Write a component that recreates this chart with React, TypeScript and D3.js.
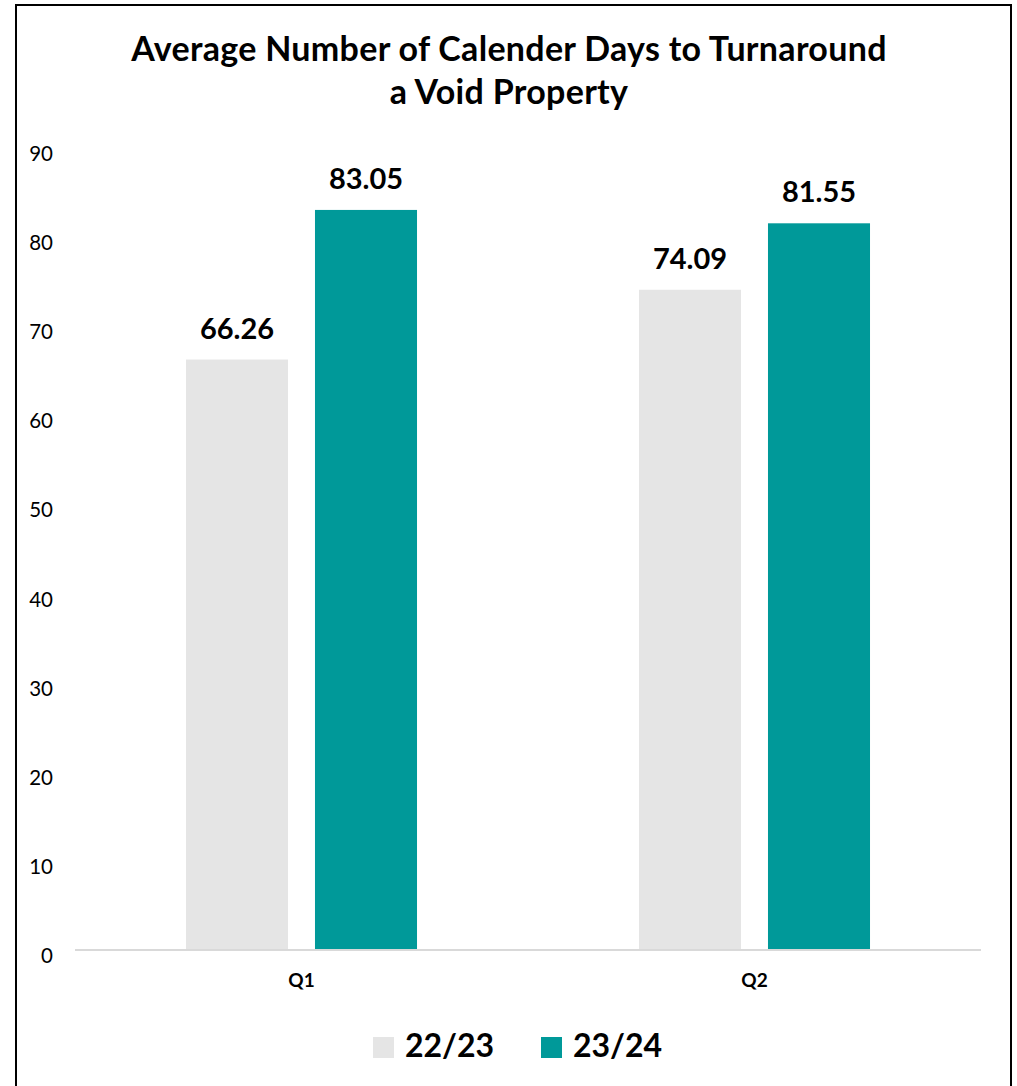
import React from "react";
import * as d3 from "d3";

const categories = ["Q1", "Q2"];
const seriesNames = ["22/23", "23/24"];
const values2223 = [66.26, 74.09];
const values2324 = [83.05, 81.55];
const seriesColors = ["#E5E5E5", "#009999"];
const yTicks = [0, 10, 20, 30, 40, 50, 60, 70, 80, 90];
const titleLines = ["Average Number of Calender Days to Turnaround", "a Void Property"];

const W = 1017;
const H = 1086;
const FONT = "Lato, 'Open Sans', sans-serif";

export default function App() {
  const plotLeft = 75;
  const plotRight = 981;
  const y = d3.scaleLinear().domain([0, 90]).range([950, 148]);
  const x0 = d3
    .scaleBand<string>()
    .domain(categories)
    .range([plotLeft, plotRight])
    .paddingInner(0.49)
    .paddingOuter(0.245);
  const x1 = d3
    .scaleBand<string>()
    .domain(seriesNames)
    .range([0, x0.bandwidth()])
    .paddingInner(0.209);
  const series = [values2223, values2324];

  return (
    <svg
      width={W}
      height={H}
      style={{ position: "absolute", left: 0, top: 0, background: "#fff" }}
      fontFamily={FONT}
    >
      <rect x={0} y={0} width={W} height={H} fill="#fff" />
      <rect x={16} y={5} width={995} height={H + 10} fill="none" stroke="#000" strokeWidth={2} />
      {titleLines.map((t, i) => (
        <text
          key={t}
          x={509}
          y={61 + i * 43}
          textAnchor="middle"
          fontSize={34}
          letterSpacing={0.3}
          fontWeight="bold"
          fill="#000"
        >
          {t}
        </text>
      ))}
      {yTicks.map((v) => (
        <text
          key={v}
          x={53}
          y={y(v) + 5}
          textAnchor="end"
          dominantBaseline="central"
          fontSize={20.5}
          fill="#000"
        >
          {v}
        </text>
      ))}
      {categories.map((c, ci) => (
        <g key={c} transform={`translate(${x0(c)},0)`}>
          {seriesNames.map((s, si) => {
            const v = series[si][ci];
            const bx = x1(s)!;
            return (
              <g key={s}>
                <rect
                  x={bx}
                  y={y(v)}
                  width={x1.bandwidth()}
                  height={y(0) - y(v)}
                  fill={seriesColors[si]}
                />
                <text
                  x={bx + x1.bandwidth() / 2}
                  y={y(v) - 21}
                  textAnchor="middle"
                  fontSize={29}
                  fontWeight="bold"
                  fill="#000"
                >
                  {v.toFixed(2)}
                </text>
              </g>
            );
          })}
          <text
            x={x0.bandwidth() / 2}
            y={987}
            textAnchor="middle"
            fontSize={19}
            fontWeight="bold"
            fill="#000"
          >
            {c}
          </text>
        </g>
      ))}
      <line x1={plotLeft} x2={plotRight} y1={y(0)} y2={y(0)} stroke="#D9D9D9" strokeWidth={2} />
      {seriesNames.map((s, si) => {
        const lx = 373 + si * 168;
        return (
          <g key={s}>
            <rect x={lx} y={1037} width={21} height={21} fill={seriesColors[si]} />
            <text x={lx + 32} y={1057} fontSize={32} fontWeight="bold" fill="#000">
              {s}
            </text>
          </g>
        );
      })}
    </svg>
  );
}
